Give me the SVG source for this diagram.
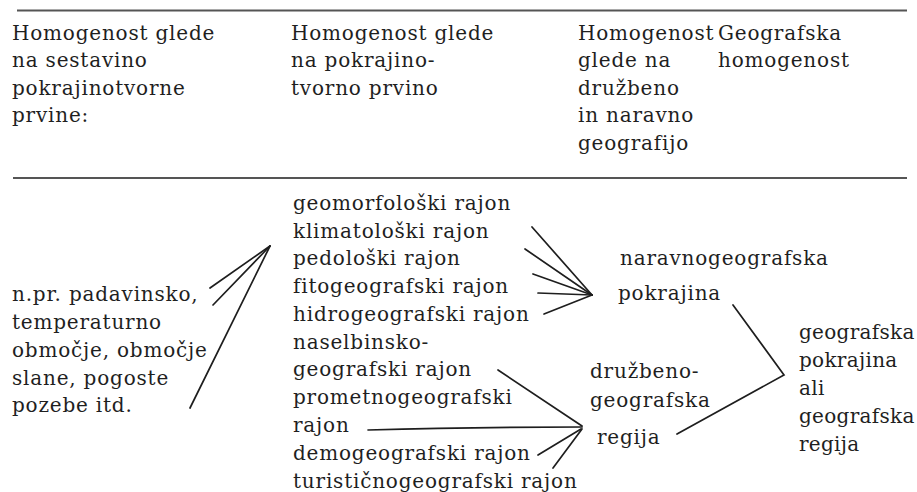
<svg xmlns="http://www.w3.org/2000/svg" width="917" height="492" viewBox="0 0 917 492">
<style>
text{font-family:"DejaVu Serif","Liberation Serif",serif;font-size:20px;letter-spacing:0.8px;fill:#1f1f1f}
.tight text{letter-spacing:0.3px}
.rule{stroke:#555;stroke-width:2}
.c{stroke:#1e1e1e;stroke-width:1.7;fill:none;stroke-linecap:round}
</style>
<rect width="917" height="492" fill="#fff"/>
<g id="rules">
<line class="rule" x1="17" y1="10.5" x2="907" y2="10.5"/>
<line class="rule" x1="13" y1="178" x2="907" y2="178"/>
</g>
<g id="header1"><text x="12" y="40">Homogenost glede</text><text x="12" y="67">na sestavino</text><text x="12" y="94.5">pokrajinotvorne</text><text x="12" y="122">prvine:</text></g>
<g id="header2"><text x="291" y="40">Homogenost glede</text><text x="291" y="67">na pokrajino-</text><text x="291" y="94.5">tvorno prvino</text></g>
<g id="header3"><text x="578" y="40">Homogenost</text><text x="578" y="67">glede na</text><text x="578" y="94.5">družbeno</text><text x="578" y="122">in naravno</text><text x="578" y="149.5">geografijo</text></g>
<g id="header4"><text x="718" y="40">Geografska</text><text x="718" y="67">homogenost</text></g>
<g id="examples"><text x="12" y="301">n.pr. padavinsko,</text><text x="12" y="329">temperaturno</text><text x="12" y="357">območje, območje</text><text x="12" y="385">slane, pogoste</text><text x="12" y="412">pozebe itd.</text></g>
<g id="rajoni">
<text x="293" y="210">geomorfološki rajon</text>
<text x="293" y="237.7">klimatološki rajon</text>
<text x="293" y="265.4">pedološki rajon</text>
<text x="293" y="293.1">fitogeografski rajon</text>
<text x="293" y="320.8">hidrogeografski rajon</text>
<text x="293" y="348.5">naselbinsko-</text>
<text x="293" y="376.2">geografski rajon</text>
<text x="293" y="403.9">prometnogeografski</text>
<text x="293" y="431.6">rajon</text>
<text x="293" y="459.5">demogeografski rajon</text>
<text x="293" y="487.5">turističnogeografski rajon</text>
</g>
<g id="naravno"><text x="620" y="265">naravnogeografska</text><text x="618" y="300">pokrajina</text></g>
<g id="druzbeno"><text x="590" y="378">družbeno-</text><text x="590" y="407">geografska</text><text x="597" y="444">regija</text></g>
<g id="geografska" class="tight"><text x="799" y="339">geografska</text><text x="799" y="367">pokrajina</text><text x="799" y="395">ali</text><text x="799" y="423">geografska</text><text x="799" y="451">regija</text></g>
<g id="connectors">
<line class="c" x1="210" y1="288" x2="270" y2="246"/>
<line class="c" x1="213" y1="305" x2="270" y2="246"/>
<line class="c" x1="190" y1="408" x2="270" y2="246"/>
<line class="c" x1="532" y1="227" x2="592" y2="295"/>
<line class="c" x1="525" y1="249" x2="592" y2="295"/>
<line class="c" x1="533" y1="274" x2="592" y2="295"/>
<line class="c" x1="538" y1="293" x2="592" y2="295"/>
<line class="c" x1="544" y1="314" x2="592" y2="295"/>
<line class="c" x1="498" y1="370" x2="582" y2="426"/>
<path class="c" d="M368 430 Q470 427 582 427" stroke-width="2.2"/>
<line class="c" x1="538" y1="455" x2="581" y2="429"/>
<line class="c" x1="553" y1="468" x2="582" y2="429"/>
<polyline class="c" points="733,305 784,375 677,434"/>
</g>
</svg>
